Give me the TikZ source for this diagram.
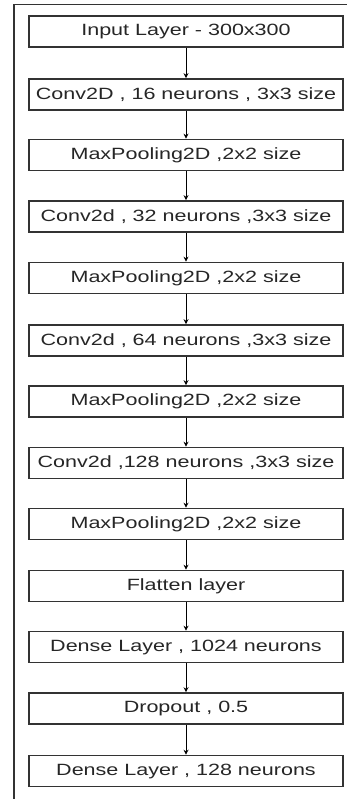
\documentclass[tikz,border=0pt]{standalone}
\usepackage{fontspec}
\setmainfont{Liberation Sans}
\usetikzlibrary{arrows.meta}
\definecolor{boxline}{HTML}{333333}
\definecolor{txt}{HTML}{262626}
\newcommand\wtxt[1]{\scalebox{1.32}[1]{#1}}
\tikzset{
  layerbox/.style={draw=boxline, line width=1.6pt, minimum width=314pt, minimum height=31pt,
    inner sep=0pt, text=txt, font=\fontsize{16.3}{18}\selectfont, fill=white},
  flow/.style={-{Stealth[length=5pt,width=5pt]}, line width=0.9pt, draw=black},
}
\begin{document}
\begin{tikzpicture}[x=1pt,y=1pt]
\useasboundingbox (0,0) rectangle (346,-799);
\draw[boxline, line width=1.6pt] (14,-799) -- (14,-4.5) -- (350,-4.5);
\node[layerbox] (n1) at (186,-31.5) {\wtxt{Input Layer - 300x300}};
\node[layerbox] (n2) at (186,-94.5) {\wtxt{Conv2D , 16 neurons , 3x3 size}};
\node[layerbox] (n3) at (186,-155) {\wtxt{MaxPooling2D ,2x2 size}};
\node[layerbox] (n4) at (186,-216.5) {\wtxt{Conv2d , 32 neurons ,3x3 size}};
\node[layerbox] (n5) at (186,-278) {\wtxt{MaxPooling2D ,2x2 size}};
\node[layerbox] (n6) at (186,-340.5) {\wtxt{Conv2d , 64 neurons ,3x3 size}};
\node[layerbox] (n7) at (186,-401.5) {\wtxt{MaxPooling2D ,2x2 size}};
\node[layerbox] (n8) at (186,-463) {\wtxt{Conv2d ,128 neurons ,3x3 size}};
\node[layerbox] (n9) at (186,-524) {\wtxt{MaxPooling2D ,2x2 size}};
\node[layerbox] (n10) at (186,-586) {\wtxt{Flatten layer}};
\node[layerbox] (n11) at (186,-647) {\wtxt{Dense Layer , 1024 neurons}};
\node[layerbox] (n12) at (186,-708.5) {\wtxt{Dropout , 0.5}};
\node[layerbox] (n13) at (186,-771) {\wtxt{Dense Layer , 128 neurons}};
\foreach \a/\b in {n1/n2,n2/n3,n3/n4,n4/n5,n5/n6,n6/n7,n7/n8,n8/n9,n9/n10,n10/n11,n11/n12,n12/n13}
  \draw[flow] (\a.south) -- (\b.north);
\end{tikzpicture}
\end{document}
